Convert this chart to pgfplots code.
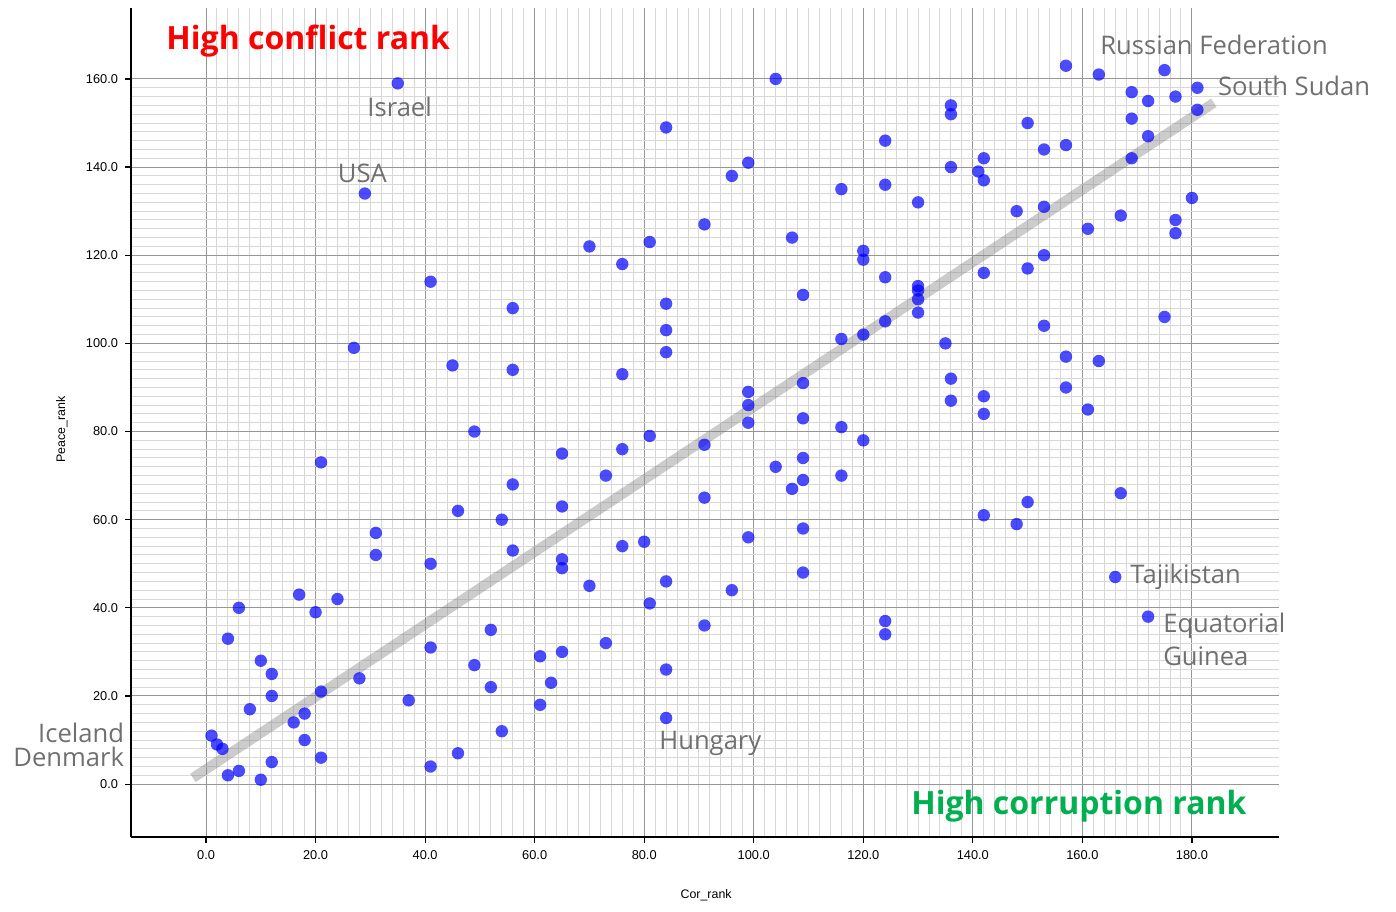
\documentclass[border=0pt]{standalone}
\usepackage{fontspec}
\usepackage{pgfplots}
\pgfplotsset{compat=1.18}
\setmainfont{Open Sans}
\newfontfamily\tickfont{Liberation Sans}
\definecolor{lblgray}{RGB}{112,112,112}
\definecolor{hcred}{RGB}{255,0,0}
\definecolor{hcgreen}{RGB}{0,176,80}
\definecolor{majgrid}{RGB}{150,150,150}
\definecolor{mingrid}{RGB}{216,216,216}
\begin{document}
\begin{tikzpicture}
\begin{axis}[
  at={(65.5pt,37pt)}, anchor=south west,
  scale only axis, width=574pt, height=414.5pt,
  xmin=-13.7, xmax=195.9, ymin=-12.0, ymax=176.1,
  axis x line=bottom, axis y line=left,
  axis line style={black, line width=0.8pt, -},
  xtick={0,20,...,180}, ytick={0,20,...,160},
  minor x tick num=9, minor y tick num=9,
  grid=both,
  major grid style={line width=0.5pt, majgrid},
  minor grid style={line width=0.5pt, mingrid},
  tick align=outside, major tick length=3pt, minor tick length=0pt,
  tick style={black, line width=0.6pt},
  ticklabel style={font=\tickfont\fontsize{6.4}{7}\selectfont},
  /pgf/number format/.cd, fixed, fixed zerofill, precision=1, assume math mode=true,
  /pgfplots/.cd,
  clip=false,
]
\addplot[only marks, mark=*, mark size=3.1pt, color={rgb,255:red,0;green,0;blue,255}, opacity=0.7, mark options={draw opacity=0}] coordinates {
(1,11) (2,9) (3,8) (4,2) (6,3) (4,33) (6,40) (8,17) (10,28) (10,1)
(12,25) (12,20) (12,5) (16,14) (18,16) (18,10) (17,43) (20,39) (21,21) (21,6)
(21,73) (24,42) (28,24) (27,99) (29,134) (31,57) (31,52) (35,159) (37,19) (41,114)
(41,50) (41,31) (41,4) (45,95) (46,62) (46,7) (49,80) (49,27) (52,35) (52,22)
(54,60) (54,12) (56,108) (56,94) (56,68) (56,53) (61,29) (61,18) (63,23) (65,75)
(65,63) (65,51) (65,49) (65,30) (70,122) (70,45) (73,70) (73,32) (76,118) (76,93)
(76,76) (76,54) (80,55) (81,123) (81,79) (81,41) (84,149) (84,109) (84,103) (84,98)
(84,46) (84,26) (84,15) (91,127) (91,77) (91,65) (91,36) (96,138) (96,44) (99,141)
(99,89) (99,86) (99,82) (99,56) (104,160) (104,72) (107,124) (107,67) (109,111) (109,91)
(109,83) (109,74) (109,69) (109,58) (109,48) (116,135) (116,101) (116,81) (116,70) (120,121)
(120,119) (120,102) (120,78) (124,146) (124,136) (124,115) (124,105) (124,37) (124,34) (130,132)
(130,113) (130,112) (130,110) (130,107) (135,100) (136,154) (136,152) (136,140) (136,92) (136,87)
(141,139) (142,142) (142,137) (142,116) (142,88) (142,84) (142,61) (148,130) (148,59) (150,150)
(150,117) (150,64) (153,144) (153,131) (153,120) (153,104) (157,163) (157,145) (157,97) (157,90)
(161,126) (161,85) (163,161) (163,96) (166,47) (167,129) (167,66) (169,157) (169,151) (169,142)
(172,155) (172,147) (172,38) (175,162) (175,106) (177,156) (177,128) (177,125) (180,133) (181,158)
(181,153)
};
\addplot[line width=5pt, color=gray, opacity=0.4, line cap=butt] coordinates {(-2.4,1.4) (184,154.6)};
% text labels
\node[anchor=base west, font=\bfseries\fontsize{16}{19}\selectfont, text=hcred, inner sep=0pt] at (axis cs:-7.3,166.7) {High conflict rank};
\node[anchor=base west, font=\bfseries\fontsize{16}{19}\selectfont, text=hcgreen, inner sep=0pt] at (axis cs:128.7,-7.0) {High corruption rank};
\node[anchor=base west, font=\fontsize{12.8}{15}\selectfont, text=lblgray, inner sep=0pt] at (axis cs:29.4,151.5) {Israel};
\node[anchor=base west, font=\fontsize{12.8}{15}\selectfont, text=lblgray, inner sep=0pt] at (axis cs:24.0,136.5) {USA};
\node[anchor=base west, font=\fontsize{12.8}{15}\selectfont, text=lblgray, inner sep=0pt] at (axis cs:163.2,165.5) {Russian Federation};
\node[anchor=base west, font=\fontsize{12.8}{15}\selectfont, text=lblgray, inner sep=0pt] at (axis cs:184.7,156.2) {South Sudan};
\node[anchor=base west, font=\fontsize{12.8}{15}\selectfont, text=lblgray, inner sep=0pt] at (axis cs:168.7,45.6) {Tajikistan};
\node[anchor=base west, font=\fontsize{12.8}{15}\selectfont, text=lblgray, inner sep=0pt] at (axis cs:174.7,34.5) {Equatorial};
\node[anchor=base west, font=\fontsize{12.8}{15}\selectfont, text=lblgray, inner sep=0pt] at (axis cs:174.7,27.0) {Guinea};
\node[anchor=base west, font=\fontsize{12.8}{15}\selectfont, text=lblgray, inner sep=0pt] at (axis cs:82.7,7.9) {Hungary};
\node[anchor=base east, font=\fontsize{12.8}{15}\selectfont, text=lblgray, inner sep=0pt] at (axis cs:-14.9,9.5) {Iceland};
\node[anchor=base east, font=\fontsize{12.8}{15}\selectfont, text=lblgray, inner sep=0pt] at (axis cs:-14.9,4.1) {Denmark};
\node[rotate=90, font=\tickfont\fontsize{6.2}{7}\selectfont, inner sep=0pt] at (axis cs:-26.3,80.5) {Peace\_rank};
\node[font=\tickfont\fontsize{6.2}{7}\selectfont, inner sep=0pt] at (axis cs:91.3,-25.2) {Cor\_rank};
\end{axis}
\pgfresetboundingbox
\useasboundingbox (0,0) rectangle (698pt,455.5pt);
\end{tikzpicture}
\end{document}
